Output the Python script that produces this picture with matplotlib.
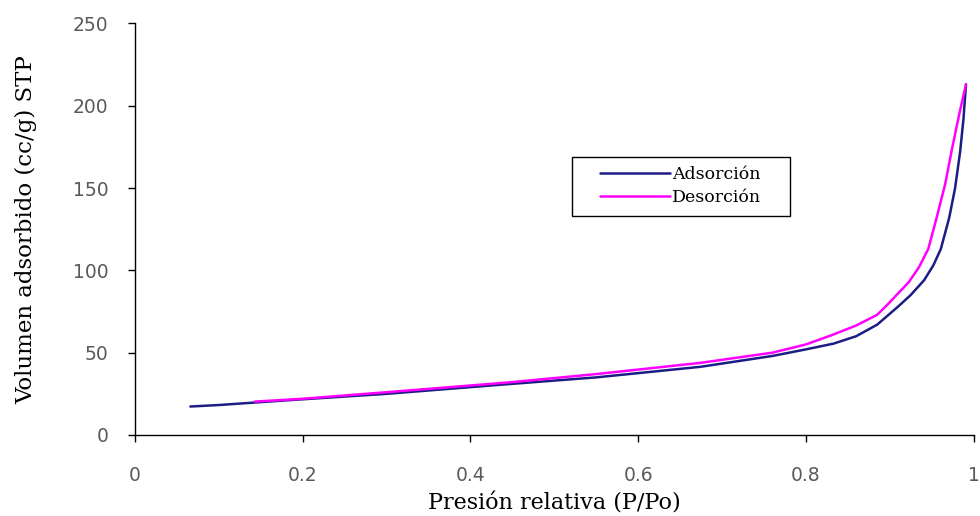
import matplotlib
matplotlib.use("Agg")
import matplotlib.pyplot as plt
from matplotlib.patches import Rectangle

# Adsorption branch
ads_x = [0.066, 0.10, 0.185, 0.30, 0.435, 0.55, 0.674, 0.76, 0.80, 0.833, 0.86, 0.885,
         0.91, 0.925, 0.941, 0.952, 0.961, 0.971, 0.978, 0.984, 0.988, 0.991]
ads_y = [17.3, 18.2, 21.2, 25.0, 30.5, 35.0, 41.4, 48.0, 52.0, 55.5, 60.0, 67.0,
         78.0, 85.0, 94.0, 103.0, 113.0, 132.0, 150.0, 172.0, 192.0, 213.0]

# Desorption branch
des_x = [0.143, 0.20, 0.30, 0.447, 0.55, 0.674, 0.76, 0.80, 0.83, 0.86, 0.885, 0.897,
         0.91, 0.923, 0.935, 0.946, 0.956, 0.966, 0.974, 0.983, 0.991]
des_y = [20.3, 22.0, 26.0, 32.0, 37.0, 43.8, 50.0, 55.0, 60.5, 66.5, 73.0, 79.0,
         86.0, 93.0, 102.0, 113.0, 132.0, 152.0, 173.0, 195.0, 213.0]

x_ticks = [0, 0.2, 0.4, 0.6, 0.8, 1.0]
x_tick_labels = ["0", "0.2", "0.4", "0.6", "0.8", "1"]
y_ticks = [0, 50, 100, 150, 200, 250]

fig = plt.figure(figsize=(9.8, 5.16), dpi=100)
ax = fig.add_axes([0.1378, 0.157, 0.8556, 0.7975])

ax.plot(ads_x, ads_y, color="#1c1c85", lw=1.8, label="Adsorción", solid_capstyle="round")
ax.plot(des_x, des_y, color="#ff00ff", lw=1.8, label="Desorción", solid_capstyle="round")

ax.set_xlim(0, 1)
ax.set_ylim(0, 250)
ax.set_xticks(x_ticks)
ax.set_xticklabels(x_tick_labels)
ax.set_yticks(y_ticks)

for s in ["top", "right"]:
    ax.spines[s].set_visible(False)
for s in ["left", "bottom"]:
    ax.spines[s].set_linewidth(1.0)
    ax.spines[s].set_color("black")

ax.tick_params(axis="x", direction="out", length=5, width=1, pad=17,
               labelsize=13.5, labelcolor="#5a5a5a")
ax.tick_params(axis="y", direction="out", length=5, width=1, pad=14,
               labelsize=13.5, labelcolor="#5a5a5a")

ax.set_xlabel("Presión relativa (P/Po)", family="DejaVu Serif", fontsize=16, labelpad=6)
ax.set_ylabel("Volumen adsorbido (cc/g) STP", family="DejaVu Serif", fontsize=16.5, labelpad=26)

# legend frame
ax.add_patch(Rectangle((0.521, 0.532), 0.26, 0.1436, transform=ax.transAxes,
                       facecolor="white", edgecolor="black", lw=1.0, zorder=4))
leg = ax.legend(loc="center", bbox_to_anchor=(0.651, 0.604), frameon=False,
                handlelength=4.0, handletextpad=0.15, borderpad=0.0, labelspacing=0.35,
                prop={"family": "DejaVu Serif", "size": 12.5})
leg.set_zorder(5)

fig.savefig("out.png", dpi=100)
